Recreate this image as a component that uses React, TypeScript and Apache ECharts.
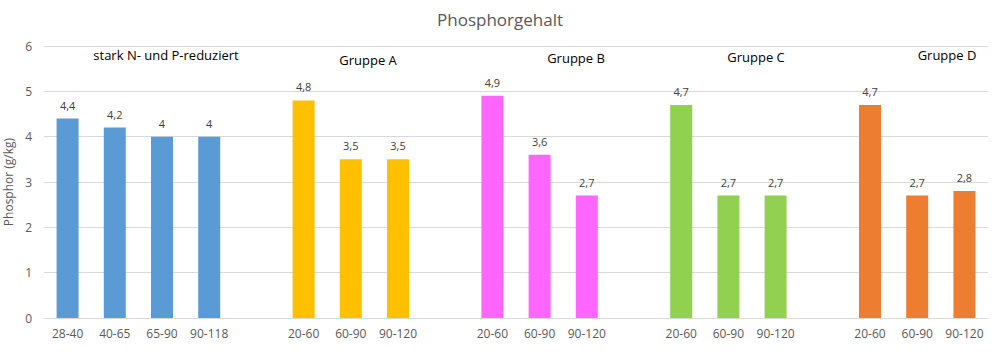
import React, { useEffect, useRef } from "react";
import * as echarts from "echarts";

const categories = [
  "28-40", "40-65", "65-90", "90-118", "",
  "20-60", "60-90", "90-120", "",
  "20-60", "60-90", "90-120", "",
  "20-60", "60-90", "90-120", "",
  "20-60", "60-90", "90-120",
];
const values: (number | null)[] = [
  4.4, 4.2, 4.0, 4.0, null,
  4.8, 3.5, 3.5, null,
  4.9, 3.6, 2.7, null,
  4.7, 2.7, 2.7, null,
  4.7, 2.7, 2.8,
];
const groupIndex = [0, 0, 0, 0, -1, 1, 1, 1, -1, 2, 2, 2, -1, 3, 3, 3, -1, 4, 4, 4];
const groupColors = ["#5B9BD5", "#FFC000", "#FF66FF", "#92D050", "#ED7D31"];
const groupNames = ["stark N- und P-reduziert", "Gruppe A", "Gruppe B", "Gruppe C", "Gruppe D"];
const yTicks = [0, 1, 2, 3, 4, 5, 6];

const FONT = "Open Sans";

export default function App() {
  const ref = useRef<HTMLDivElement>(null);
  useEffect(() => {
    if (!ref.current) return;
    const chart = echarts.init(ref.current, undefined, { renderer: "svg" });
    const labelPos = [
      { x: 166, y: 55 },
      { x: 368, y: 60 },
      { x: 576, y: 58 },
      { x: 756, y: 57 },
      { x: 947, y: 55 },
    ];
    chart.setOption({
      animation: false,
      textStyle: { fontFamily: FONT },
      title: {
        text: "Phosphorgehalt",
        left: "center",
        top: 6,
        textStyle: { fontFamily: FONT, fontSize: 17, fontWeight: "normal", color: "#595959" },
      },
      grid: { left: 44, right: 12, top: 46, bottom: 35, containLabel: false, outerBoundsMode: "none" },
      xAxis: {
        type: "category",
        data: categories,
        axisLine: { lineStyle: { color: "#D9D9D9" } },
        axisTick: { show: false },
        axisLabel: { color: "#595959", fontSize: 12, fontFamily: FONT, margin: 9, interval: 0 },
      },
      yAxis: {
        type: "value",
        min: yTicks[0],
        max: yTicks[yTicks.length - 1],
        interval: 1,
        name: "Phosphor (g/kg)",
        nameLocation: "middle",
        nameGap: 20,
        nameRotate: 90,
        nameTextStyle: { color: "#595959", fontSize: 12, fontFamily: FONT },
        axisLine: { show: false },
        axisTick: { show: false },
        axisLabel: { color: "#595959", fontSize: 12, fontFamily: FONT, margin: 12 },
        splitLine: { lineStyle: { color: "#D9D9D9" } },
      },
      series: [
        {
          type: "bar",
          barWidth: 22,
          data: values.map((v, i) => ({
            value: v,
            itemStyle: { color: groupIndex[i] >= 0 ? groupColors[groupIndex[i]] : "transparent" },
          })),
          label: {
            show: true,
            position: "top",
            distance: 8,
            color: "#404040",
            fontSize: 11,
            fontFamily: FONT,
            formatter: (p: any) => (p.value == null ? "" : String(p.value).replace(".", ",")),
          },
        },
      ],
      graphic: groupNames.map((name, i) => ({
        type: "text",
        x: labelPos[i].x,
        y: labelPos[i].y,
        style: {
          text: name,
          fill: "#000000",
          fontSize: 13,
          fontFamily: FONT,
          align: "center",
          verticalAlign: "middle",
        },
      })),
    });
    return () => chart.dispose();
  }, []);
  return <div ref={ref} style={{ width: 1000, height: 353, position: "absolute", left: 0, top: 0 }} />;
}
